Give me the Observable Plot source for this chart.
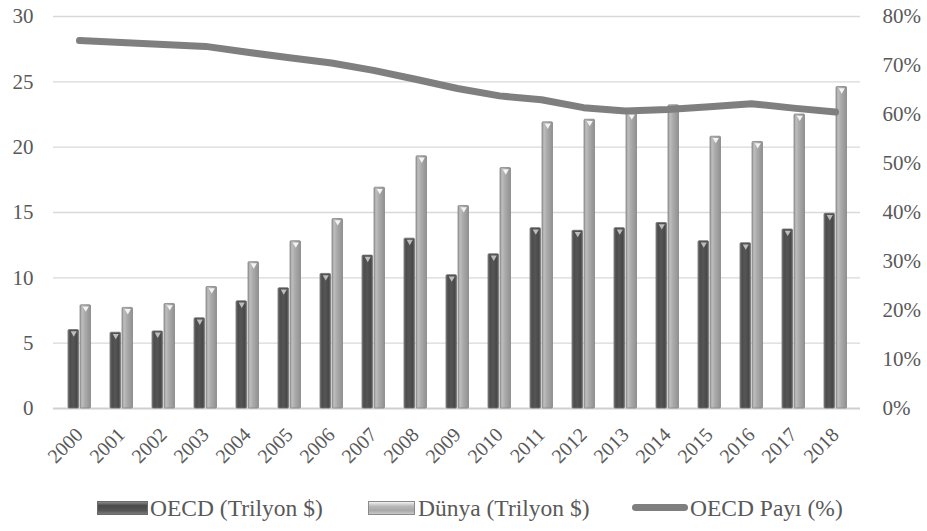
<!DOCTYPE html>
<html>
<head>
<meta charset="utf-8">
<script src="https://cdn.jsdelivr.net/npm/d3@7"></script>
<script src="https://cdn.jsdelivr.net/npm/@observablehq/plot@0.6"></script>
<style>
  body { margin: 0; background: #fff; }
  #chart { position: relative; width: 927px; height: 531px; font-family: "Liberation Serif", "Times New Roman", Tinos, "DejaVu Serif", serif; color: #595959; }
  #chart svg text { font-family: "Liberation Serif", "Times New Roman", Tinos, "DejaVu Serif", serif; }
  .sw { position: absolute; box-sizing: border-box; }
  .sw-oecd { top: 501px; width: 51px; height: 14px; border: 1px solid #6a6a6a; background: linear-gradient(#8a8a8a, #4a4a4a 30%, #555 70%, #7a7a7a); }
  .sw-dunya { top: 501px; width: 47px; height: 14px; border: 1px solid #8a8a8a; background: linear-gradient(#f2f2f2, #b8b8b8 35%, #a8a8a8 70%, #c8c8c8); }
  .sw-line { top: 504px; width: 56px; height: 7px; border-radius: 4px; background: #7f7f7f; }
  .lt { position: absolute; top: 493px; font-size: 23.5px; line-height: 30px; color: #595959; white-space: nowrap; }
</style>
</head>
<body>
<div id="chart"></div>
<script>
// Years on the category axis
const years = ["2000","2001","2002","2003","2004","2005","2006","2007","2008","2009",
               "2010","2011","2012","2013","2014","2015","2016","2017","2018"];
// OECD GDP, trillion $
const oecd = [6.0, 5.8, 5.9, 6.9, 8.2, 9.2, 10.3, 11.7, 13.0, 10.2,
              11.8, 13.8, 13.6, 13.8, 14.2, 12.8, 12.65, 13.7, 14.9];
// World GDP, trillion $
const dunya = [7.9, 7.7, 8.0, 9.3, 11.2, 12.8, 14.5, 16.9, 19.3, 15.5,
               18.4, 21.9, 22.1, 22.6, 23.2, 20.8, 20.4, 22.5, 24.6];
// OECD share of world GDP, %
const oecdShare = [75.1, 74.7, 74.3, 73.9, 72.7, 71.6, 70.5, 69.0, 67.2, 65.3,
                   63.8, 63.0, 61.4, 60.7, 61.0, 61.6, 62.2, 61.3, 60.5];
// Axis ticks
const leftTicks = [0, 5, 10, 15, 20, 25, 30];
const rightTicks = [0, 10, 20, 30, 40, 50, 60, 70, 80];
// Legend entries
const legendLabels = ["OECD (Trilyon $)", "Dünya (Trilyon $)", "OECD Payı (%)"];

const leftMax = 30, rightMax = 80;
const toLeft = p => p * leftMax / rightMax;

const rows = years.map((year, i) => ({year, oecd: oecd[i], dunya: dunya[i], share: oecdShare[i]}));

// Cylinder-style horizontal gradients for the bars, plus a soft shadow for the line
const defs = () => {
  const g = d3.create("svg:defs");
  const grad = (id, stops) => {
    const lg = g.append("linearGradient").attr("id", id).attr("x1", 0).attr("x2", 1).attr("y1", 0).attr("y2", 0);
    stops.forEach(([o, c]) => lg.append("stop").attr("offset", o).attr("stop-color", c));
  };
  grad("gOecd", [[0, "#7a7a7a"], [0.18, "#4c4c4c"], [0.5, "#565656"], [0.82, "#484848"], [1, "#6c6c6c"]]);
  grad("gDunya", [[0, "#999"], [0.2, "#bdbdbd"], [0.5, "#a9a9a9"], [0.82, "#9a9a9a"], [1, "#8e8e8e"]]);
  const f = g.append("filter").attr("id", "shadow").attr("x", "-20%").attr("y", "-20%").attr("width", "140%").attr("height", "160%");
  f.append("feDropShadow").attr("dx", 1.5).attr("dy", 2.5).attr("stdDeviation", 1.8).attr("flood-color", "#000").attr("flood-opacity", 0.3);
  return g.node();
};

const W = 927;
const bandW = (W - 53 - 67) / years.length;
const serif = "'Liberation Serif', 'Times New Roman', Tinos, 'DejaVu Serif', serif";

const plot = Plot.plot({
  width: W,
  height: 470,
  marginLeft: 53,
  marginRight: 67,
  marginTop: 16,
  marginBottom: 62,
  style: { fontFamily: serif, color: "#595959", background: "transparent" },
  x: { type: "band", domain: years, padding: 0, axis: null },
  y: { domain: [0, leftMax], axis: null },
  marks: [
    defs,
    Plot.ruleY(leftTicks.filter(t => t > 0), { stroke: "#d9d9d9", strokeWidth: 1.3 }),
    Plot.ruleY([0], { stroke: "#cfcfcf", strokeWidth: 2 }),
    Plot.barY(rows, {
      x: "year", y: "oecd", fill: "url(#gOecd)", stroke: "#6e6e6e", strokeWidth: 0.8,
      insetLeft: 10, insetRight: bandW - 21, rx: 1
    }),
    Plot.barY(rows, {
      x: "year", y: "dunya", fill: "url(#gDunya)", stroke: "#858585", strokeWidth: 0.8,
      insetLeft: 22, insetRight: bandW - 33, rx: 1
    }),
    // bevel caps on bar tops
    Plot.dot(rows, { x: "year", y: "oecd", dx: 15.5 - bandW / 2, dy: 3, symbol: "triangle", rotate: 180, r: 2.3, fill: "#bdbdbd", stroke: null }),
    Plot.dot(rows, { x: "year", y: "dunya", dx: 27.5 - bandW / 2, dy: 3, symbol: "triangle", rotate: 180, r: 2.3, fill: "#f4f4f4", stroke: null }),
    // OECD share line on the right-hand scale
    Plot.line(rows, {
      x: "year", y: d => toLeft(d.share),
      stroke: "#7f7f7f", strokeWidth: 7, strokeLinecap: "round", strokeLinejoin: "round",
      style: "filter:url(#shadow)"
    }),
    Plot.axisY(leftTicks, { anchor: "left", tickSize: 0, tickPadding: 20, fontSize: 21, label: null, tickFormat: d => String(d) }),
    Plot.axisY(rightTicks.map(toLeft), { anchor: "right", tickSize: 0, tickPadding: 22, fontSize: 21, label: null, textAnchor: "start", tickFormat: d => Math.round(d * rightMax / leftMax) + "%" }),
    Plot.axisX({ tickSize: 0, tickRotate: -45, tickPadding: 23, fontSize: 20, label: null })
  ]
});

const chart = document.getElementById("chart");
chart.appendChild(plot);

// Legend below the plot
const legendItems = [
  { cls: "sw-oecd", swLeft: 97, textLeft: 150 },
  { cls: "sw-dunya", swLeft: 368, textLeft: 418 },
  { cls: "sw-line", swLeft: 632, textLeft: 690 }
];
legendItems.forEach((it, i) => {
  const s = document.createElement("span");
  s.className = "sw " + it.cls;
  s.style.left = it.swLeft + "px";
  chart.appendChild(s);
  const t = document.createElement("span");
  t.className = "lt";
  t.style.left = it.textLeft + "px";
  t.textContent = legendLabels[i];
  chart.appendChild(t);
});
</script>
</body>
</html>
